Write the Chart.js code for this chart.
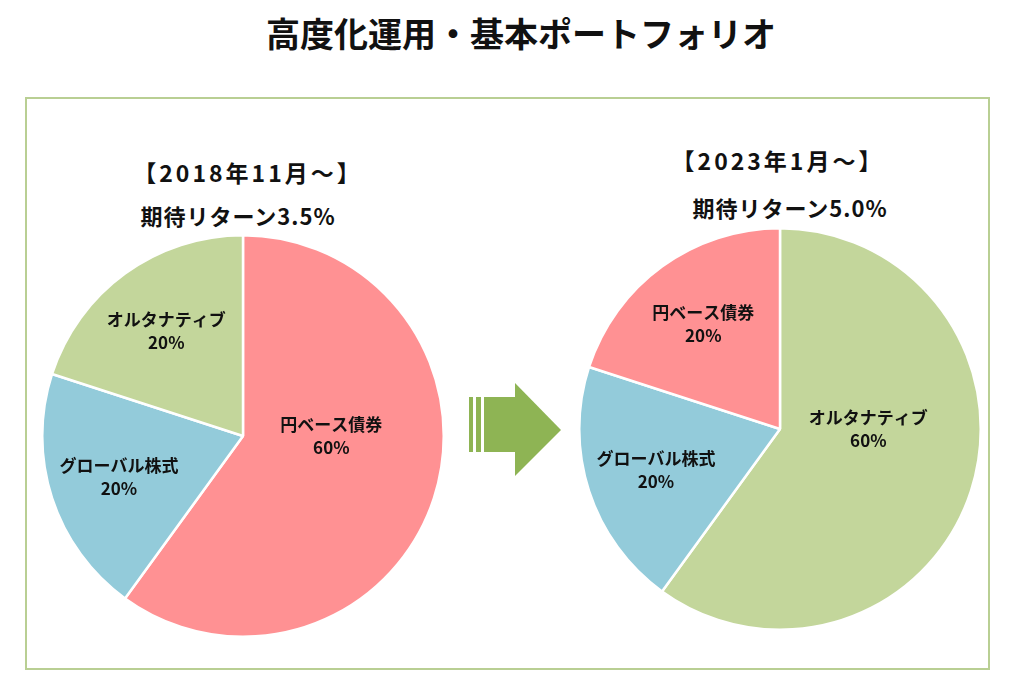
<!DOCTYPE html>
<html lang="ja">
<head>
<meta charset="utf-8">
<script src="https://cdn.jsdelivr.net/npm/chart.js@4/dist/chart.umd.min.js"></script>
<style>
  html, body { margin: 0; padding: 0; background: #fff; }
  #stage { position: relative; width: 1024px; height: 693px; overflow: hidden;
           font-family: "Noto Sans CJK JP", "Noto Sans", sans-serif; color: #111; }
  .txt { position: absolute; white-space: nowrap; font-weight: bold; transform: translate(-50%, -50%); }
  #title { left: 521px; top: 32px; font-size: 34px; }
  #box { position: absolute; left: 25px; top: 97px; width: 961px; height: 569px; border: 2px solid #B9CF93; }
  .pie { position: absolute; width: 404px; height: 404px; }
  #leftWrap { left: 41px; top: 234px; }
  #rightWrap { left: 578px; top: 227px; }
  #arrow { position: absolute; left: 460px; top: 378px; }
  .head { font-size: 23px; letter-spacing: 3px; }
  .ret { font-size: 22px; letter-spacing: 1px; }
</style>
</head>
<body>
<div id="stage">
  <div id="box"></div>
  <div id="title" class="txt">高度化運用・基本ポートフォリオ</div>
  <div id="lp1" class="txt head" style="left:248px;top:172px;"></div>
  <div id="lp2" class="txt ret" style="left:238px;top:215px;"></div>
  <div id="rp1" class="txt head" style="left:778px;top:160px;"></div>
  <div id="rp2" class="txt ret" style="left:790px;top:207px;"></div>
  <div id="leftWrap" class="pie"><canvas id="leftChart" width="404" height="404"></canvas></div>
  <div id="rightWrap" class="pie"><canvas id="rightChart" width="404" height="404"></canvas></div>
  <svg id="arrow" width="110" height="110" viewBox="460 378 110 110">
    <rect x="469" y="397" width="4" height="55" fill="#8EB454"/>
    <rect x="476" y="397" width="5" height="55" fill="#8EB454"/>
    <rect x="484" y="397" width="33" height="55" fill="#8EB454"/>
    <polygon points="515,383 561,430 515,476" fill="#8EB454"/>
  </svg>
</div>
<script>
// ---- data ----
const leftHeading = '【2018年11月～】';
const leftReturn = '期待リターン3.5%';
const leftCategories = ['円ベース債券', 'グローバル株式', 'オルタナティブ'];
const leftValues = [60, 20, 20];

const rightHeading = '【2023年1月～】';
const rightReturn = '期待リターン5.0%';
const rightCategories = ['オルタナティブ', 'グローバル株式', '円ベース債券'];
const rightValues = [60, 20, 20];

const categoryColors = {
  '円ベース債券': '#FF9193',
  'グローバル株式': '#93CBDA',
  'オルタナティブ': '#C3D69B'
};

document.getElementById('lp1').textContent = leftHeading;
document.getElementById('lp2').textContent = leftReturn;
document.getElementById('rp1').textContent = rightHeading;
document.getElementById('rp2').textContent = rightReturn;

const sliceLabels = {
  id: 'sliceLabels',
  afterDatasetsDraw(chart) {
    const ctx = chart.ctx;
    const meta = chart.getDatasetMeta(0);
    const data = chart.data.datasets[0].data;
    ctx.save();
    ctx.fillStyle = '#111';
    ctx.textAlign = 'center';
    ctx.textBaseline = 'middle';
    ctx.font = 'bold 17px "Noto Sans CJK JP", sans-serif';
    meta.data.forEach((arc, i) => {
      const p = arc.getProps(['x', 'y', 'startAngle', 'endAngle', 'outerRadius'], true);
      const mid = (p.startAngle + p.endAngle) / 2;
      let x, y;
      if (p.endAngle - p.startAngle > Math.PI) {
        x = p.x + Math.sign(Math.cos(mid)) * 0.44 * p.outerRadius;
        y = p.y;
      } else {
        x = p.x + Math.cos(mid) * 0.65 * p.outerRadius;
        y = p.y + Math.sin(mid) * 0.65 * p.outerRadius;
      }
      ctx.fillText(chart.data.labels[i], x, y - 11);
      ctx.fillText(data[i] + '%', x, y + 12);
    });
    ctx.restore();
  }
};

function makePie(id, labels, values) {
  return new Chart(document.getElementById(id), {
    type: 'pie',
    data: {
      labels: labels,
      datasets: [{
        data: values,
        backgroundColor: labels.map(l => categoryColors[l]),
        borderColor: '#ffffff',
        borderWidth: 2.5,
        hoverOffset: 0
      }]
    },
    options: {
      responsive: false,
      animation: false,
      events: [],
      layout: { padding: 0 },
      plugins: { legend: { display: false }, tooltip: { enabled: false } }
    },
    plugins: [sliceLabels]
  });
}

makePie('leftChart', leftCategories, leftValues);
makePie('rightChart', rightCategories, rightValues);
</script>
</body>
</html>
